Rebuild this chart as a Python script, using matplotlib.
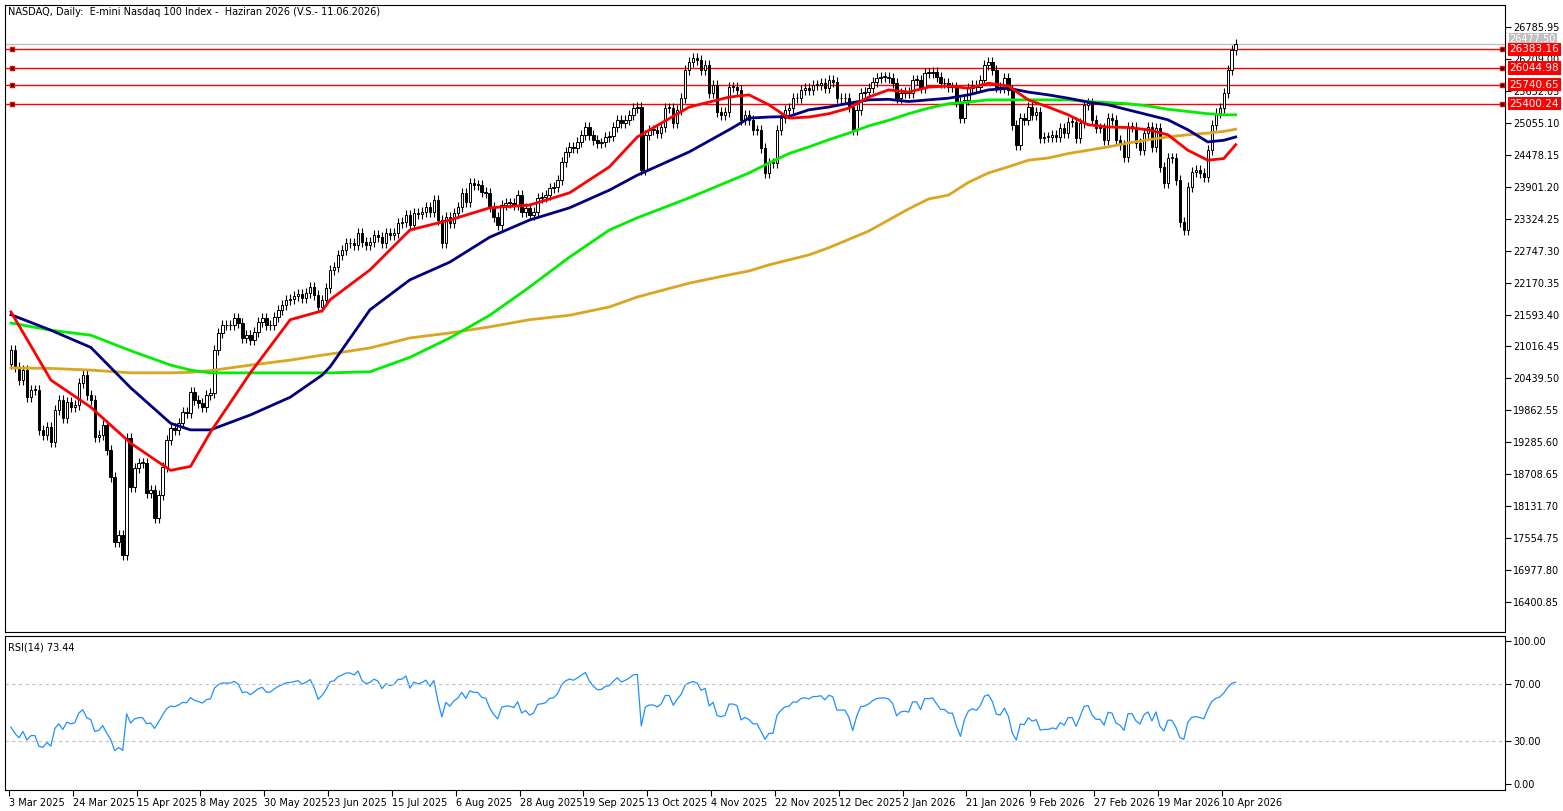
import numpy as np
import matplotlib.pyplot as plt

# daily closes (3 Mar 2025 .. Apr 2026)
closes = [
    20950, 20646, 20410, 20590, 20100, 20230, 20230, 19510, 19420, 19560, 19290, 19870, 20050,
    19720, 20010, 19920, 19960, 20360, 20500, 20140, 20050, 19380, 19420, 19600, 19150, 18660,
    17480, 17610, 17250, 19360, 18480, 18820, 18910, 18910, 18370, 18420, 17920, 18330, 18840,
    19330, 19540, 19510, 19630, 19830, 19810, 20190, 20050, 19990, 19920, 20140, 20180, 20950,
    21260, 21400, 21400, 21400, 21530, 21440, 21170, 21220, 21130, 21280, 21460, 21530, 21400,
    21400, 21550, 21680, 21770, 21860, 21880, 21920, 21960, 21900, 21980, 22090, 21950, 21730,
    21860, 22070, 22400, 22450, 22670, 22760, 22880, 22880, 22850, 23060, 22900, 22850, 22900,
    23030, 23000, 22880, 23060, 23030, 23060, 23250, 23260, 23390, 23210, 23430, 23400, 23450,
    23540, 23450, 23660, 23300, 22880, 23350, 23240, 23430, 23540, 23790, 23630, 23970, 23930,
    23930, 23810, 23790, 23540, 23350, 23210, 23570, 23610, 23610, 23570, 23750, 23450, 23520,
    23390, 23450, 23700, 23720, 23750, 23880, 23900, 24020, 24350, 24530, 24620, 24600, 24710,
    24840, 24980, 24840, 24750, 24690, 24700, 24800, 24820, 24980, 25110, 25050, 25110, 25200,
    25320, 25340, 24200, 24840, 24930, 24930, 24870, 24980, 25320, 25320, 25050, 25290, 25500,
    26010, 26150, 26230, 26190, 26010, 26100, 25590, 25740, 25250, 25200, 25250, 25700, 25700,
    25650, 25110, 25200, 25110, 24930, 24930, 24600, 24150, 24330, 24330, 24930, 25140, 25290,
    25320, 25500, 25500, 25650, 25680, 25650, 25740, 25740, 25770, 25680, 25830, 25800, 25500,
    25500, 25500, 25340, 24930, 25290, 25590, 25610, 25680, 25790, 25860, 25880, 25880, 25860,
    25770, 25500, 25590, 25610, 25590, 25830, 25830, 25680, 25960, 25960, 25980, 25880, 25770,
    25770, 25700, 25700, 25430, 25140, 25470, 25680, 25740, 25700, 25830, 26100, 26150, 26010,
    25700, 25680, 25860, 25650, 25020, 24660, 25140, 25110, 25340, 25200, 25250, 24780, 24800,
    24800, 24840, 24800, 24960, 24870, 25070, 25070, 24780, 25050, 25380, 25410, 25110, 24960,
    24960, 24750, 25140, 25110, 24750, 24660, 24440, 24980, 24980, 24690, 24560, 24870, 24980,
    24620, 24960, 24260, 23970, 24420, 24420, 24020, 23260, 23120, 23900, 24170, 24200, 24150,
    24080, 24560, 25020, 25230, 25320, 25590, 26010, 26370, 26477,
]
first_open = 20700

# moving averages: (bar-column index, value)
ma_idx = [0, 10, 20, 30, 40, 45, 50, 60, 70, 78, 80, 90, 100, 110, 120, 130, 140, 150, 157,
          170, 180, 185, 190, 195, 200, 205, 210, 215, 220, 225, 230, 235, 240, 245, 250,
          255, 260, 265, 270, 275, 280, 285, 290, 295, 300, 304, 307]
red_ma = [21640, 20410, 19920, 19270, 18780, 18850, 19470, 20540, 21500, 21660, 21860, 22400,
          23120, 23300, 23520, 23570, 23790, 24260, 24800, 25340, 25520, 25560, 25380, 25140,
          25160, 25220, 25320, 25520, 25650, 25610, 25700, 25720, 25680, 25770, 25720, 25470,
          25340, 25200, 25020, 24980, 24970, 24930, 24840, 24560, 24380, 24410, 24660]
blue_ma = [21590, 21310, 21000, 20270, 19630, 19510, 19510, 19780, 20100, 20500, 20650, 21680,
           22220, 22540, 22990, 23300, 23520, 23840, 24110, 24530, 24930, 25140, 25160, 25170,
           25290, 25340, 25410, 25470, 25480, 25440, 25470, 25500, 25560, 25650, 25680, 25610,
           25560, 25500, 25430, 25380, 25290, 25200, 25110, 24930, 24710, 24740, 24800]
green_ma = [21440, 21310, 21220, 20940, 20680, 20590, 20540, 20540, 20540, 20540, 20540, 20560,
            20820, 21170, 21580, 22090, 22630, 23120, 23340, 23700, 24000, 24150, 24330, 24500,
            24620, 24750, 24870, 25000, 25100, 25220, 25320, 25400, 25430, 25470, 25470, 25470,
            25470, 25470, 25440, 25420, 25400, 25360, 25300, 25260, 25220, 25200, 25200]
orange_ma = [20630, 20620, 20590, 20540, 20540, 20550, 20580, 20680, 20770, 20860, 20880, 20990,
             21170, 21260, 21370, 21500, 21580, 21730, 21910, 22160, 22310, 22380, 22490, 22580,
             22670, 22800, 22950, 23100, 23300, 23500, 23680, 23750, 23980, 24150, 24260, 24380,
             24420, 24500, 24560, 24620, 24690, 24750, 24800, 24840, 24870, 24900, 24940]

levels = [26383.16, 26044.98, 25740.65, 25400.24]
last_price = 26477.50
price_ticks = [26785.95, 26209.00, 25632.05, 25055.10, 24478.15, 23901.20, 23324.25, 22747.30,
               22170.35, 21593.40, 21016.45, 20439.50, 19862.55, 19285.60, 18708.65, 18131.70,
               17554.75, 16977.80, 16400.85]
date_labels = ['3 Mar 2025', '24 Mar 2025', '15 Apr 2025', '8 May 2025', '30 May 2025',
               '23 Jun 2025', '15 Jul 2025', '6 Aug 2025', '28 Aug 2025', '19 Sep 2025',
               '13 Oct 2025', '4 Nov 2025', '22 Nov 2025', '12 Dec 2025', '2 Jan 2026',
               '21 Jan 2026', '9 Feb 2026', '27 Feb 2026', '19 Mar 2026', '10 Apr 2026']

plt.rcParams['font.family'] = ['DejaVu Sans']
fig = plt.figure(figsize=(15.63, 8.11), dpi=100)
W, H = 1563, 811
ax = fig.add_axes([5 / W, 1 - 632 / H, 1500 / W, 627 / H])
ax2 = fig.add_axes([5 / W, 1 - 790 / H, 1500 / W, 154 / H])

c = np.array(closes, dtype=float)
o = np.concatenate([[first_open], c[:-1]])
n = len(c)
x = np.arange(n)
wick = 90
for i in range(n):
    hi, lo = max(o[i], c[i]), min(o[i], c[i])
    ax.vlines(x[i], lo - wick, hi + wick, color='black', lw=0.8, zorder=2)
    up = c[i] >= o[i]
    ax.bar(x[i], max(hi - lo, 12), bottom=lo, width=0.62, color='white' if up else 'black',
           edgecolor='black', lw=0.7, zorder=3)

ax.plot(ma_idx, orange_ma, color='#DAA520', lw=2, zorder=4)
ax.plot(ma_idx, green_ma, color='#00EE00', lw=2, zorder=4)
ax.plot(ma_idx, blue_ma, color='#000080', lw=2, zorder=4)
ax.plot(ma_idx, red_ma, color='red', lw=2, zorder=4)

xmax = 374.5
ax.axhline(last_price, color='#C0C0C0', lw=1, zorder=1)
ax.text(1.003, last_price, f'{last_price:.2f}', transform=ax.get_yaxis_transform(), va='bottom',
        ha='left', fontsize=7, color='white',
        bbox=dict(boxstyle='square,pad=0.1', fc='#C0C0C0', ec='none'), zorder=5, clip_on=False)
for lv in levels:
    ax.axhline(lv, color='red', lw=1, zorder=1)
    ax.plot([0.2, xmax - 0.8], [lv, lv], ls='none', marker='s', ms=3.5, mfc='black', mec='red', zorder=5)
    ax.text(1.003, lv, f'{lv:.2f}', transform=ax.get_yaxis_transform(), va='center', ha='left',
            fontsize=7.5, color='white', bbox=dict(boxstyle='square,pad=0.15', fc='red', ec='none'),
            zorder=6, clip_on=False)

ax.set_xlim(-1.5, xmax)
ax.set_ylim(15860, 27183)
ax.yaxis.tick_right()
ax.set_yticks(price_ticks)
ax.set_yticklabels([f'{t:.2f}' for t in price_ticks])
ax.set_xticks([])
ax.tick_params(axis='y', labelsize=7, length=4, pad=2)
ax.text(0.002, 0.997, 'NASDAQ, Daily:  E-mini Nasdaq 100 Index -  Haziran 2026 (V.S.- 11.06.2026)',
        transform=ax.transAxes, va='top', ha='left', fontsize=7)

# RSI(14), Wilder smoothing
d = np.diff(np.concatenate([[first_open], c]))
avg_gain, avg_loss = 60.0, 120.0
rsi = []
for v in d:
    avg_gain = (avg_gain * 13 + max(v, 0)) / 14
    avg_loss = (avg_loss * 13 + max(-v, 0)) / 14
    rsi.append(100 - 100 / (1 + avg_gain / avg_loss))
ax2.plot(x, rsi, color='#1E90FF', lw=0.9)
for lv in (70, 30):
    ax2.axhline(lv, color='#C0C0C0', lw=0.8, ls=(0, (3, 3)))
ax2.set_xlim(-1.5, xmax)
ax2.set_ylim(-4.2, 103.5)
ax2.yaxis.tick_right()
ax2.set_yticks([100, 70, 30, 0])
ax2.set_yticklabels(['100.00', '70.00', '30.00', '0.00'])
ax2.set_xticks(np.arange(len(date_labels)) * 16 - 0.5)
ax2.set_xticklabels(date_labels, ha='left')
ax2.tick_params(axis='both', labelsize=7, length=4, pad=2)
ax2.text(0.002, 0.96, 'RSI(14) 73.44', transform=ax2.transAxes, va='top', ha='left', fontsize=7)

fig.savefig('out.png', dpi=100)
